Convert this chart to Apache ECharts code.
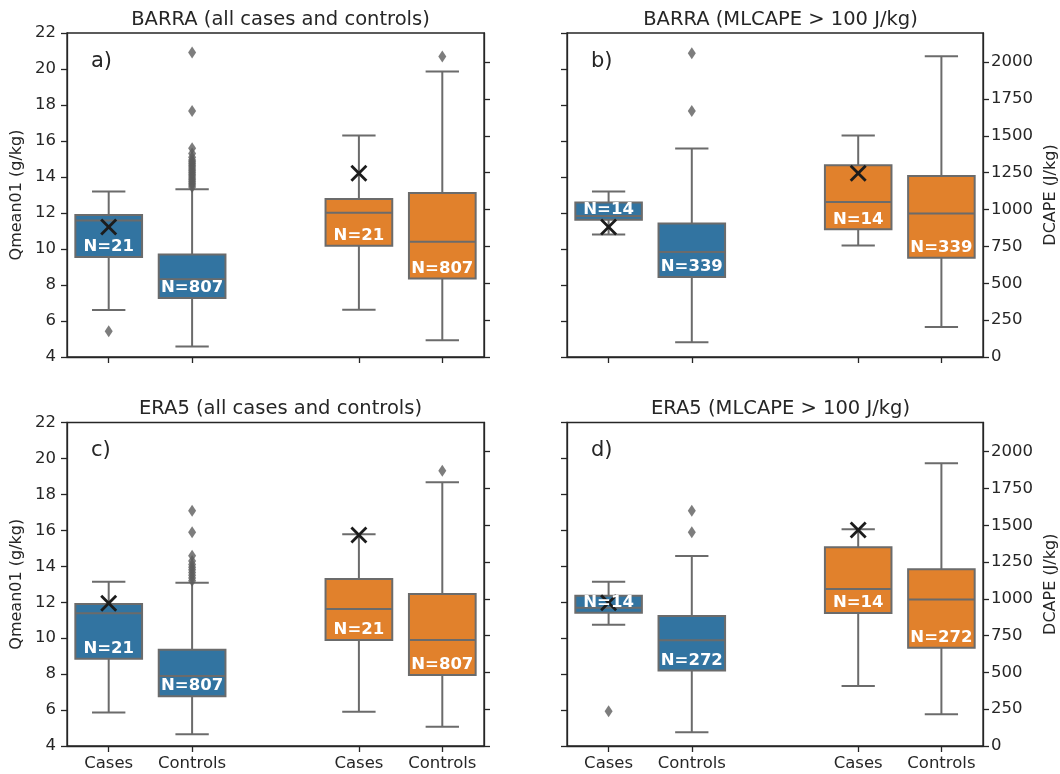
<!DOCTYPE html>
<html>
<head>
<meta charset="utf-8">
<script src="https://cdn.jsdelivr.net/npm/echarts@6/dist/echarts.min.js"></script>
<style>
html,body{margin:0;padding:0;background:#fff;}
#chart{width:1060px;height:774px;}
</style>
</head>
<body>
<div id="chart"></div>
<script>
// ---------- DATA ----------
const categories = ['Cases', 'Controls', '', 'Cases', 'Controls'];
const panelTitles = ['BARRA (all cases and controls)', 'BARRA (MLCAPE > 100 J/kg)', 'ERA5 (all cases and controls)', 'ERA5 (MLCAPE > 100 J/kg)'];
const panelLetters = ['a)', 'b)', 'c)', 'd)'];
const qTicks = [4, 6, 8, 10, 12, 14, 16, 18, 20, 22];
const dTicks = [0, 250, 500, 750, 1000, 1250, 1500, 1750, 2000];
const qName = 'Qmean01 (g/kg)';
const dName = 'DCAPE (J/kg)';

// box stats: [lower whisker, Q1, median, Q3, upper whisker] for [Cases, Controls]
const qStatsA = [[6.61, 9.56, 11.59, 11.89, 13.19], [4.58, 7.28, 8.32, 9.69, 13.32]];
const dStatsA = [[320, 755, 979, 1072, 1502], [114, 533, 782, 1113, 1937]];
const qStatsB = [[10.80, 11.63, 11.83, 12.58, 13.19], [4.82, 8.44, 9.83, 11.41, 15.59]];
const dStatsB = [[757, 866, 1052, 1300, 1502], [204, 673, 974, 1228, 2041]];
const qStatsC = [[5.87, 8.85, 11.38, 11.90, 13.14], [4.66, 6.77, 7.89, 9.36, 13.08]];
const dStatsC = [[232, 721, 931, 1135, 1439], [130, 483, 721, 1033, 1792]];
const qStatsD = [[10.74, 11.41, 11.69, 12.36, 13.14], [4.77, 8.20, 9.89, 11.23, 14.57]];
const dStatsD = [[408, 904, 1067, 1350, 1473], [216, 668, 995, 1201, 1921]];

// sample sizes [Cases, Controls]
const countsA = [21, 807];
const countsB = [14, 339];
const countsC = [21, 807];
const countsD = [14, 272];

// X markers for cases [Qmean01, DCAPE]
const caseMarkA = [11.22, 1246];
const caseMarkB = [11.22, 1246];
const caseMarkC = [11.94, 1434];
const caseMarkD = [11.97, 1468];

// outliers [Cases, Controls]
const qOutA = [[5.43], [13.45, 13.55, 13.65, 13.75, 13.85, 13.95, 14.05, 14.15, 14.25, 14.35, 14.45, 14.55, 14.65, 14.75, 14.85, 14.95, 15.10, 15.30, 15.60, 17.67, 20.91]];
const dOutA = [[], [2039]];
const qOutB = [[], [17.67, 20.87]];
const dOutB = [[], []];
const qOutC = [[], [13.20, 13.35, 13.50, 13.65, 13.80, 13.95, 14.10, 14.30, 14.58, 15.90, 17.09]];
const dOutC = [[], [1871]];
const qOutD = [[5.94], [15.90, 17.09]];
const dOutD = [[], []];

const panels = [
  {q: qStatsA, d: dStatsA, n: countsA, m: caseMarkA, qo: qOutA, dO: dOutA},
  {q: qStatsB, d: dStatsB, n: countsB, m: caseMarkB, qo: qOutB, dO: dOutB},
  {q: qStatsC, d: dStatsC, n: countsC, m: caseMarkC, qo: qOutC, dO: dOutC},
  {q: qStatsD, d: dStatsD, n: countsD, m: caseMarkD, qo: qOutD, dO: dOutD}
];

// ---------- STYLE / LAYOUT ----------
const FONT = '"DejaVu Sans", "Liberation Sans", sans-serif';
const INK = '#262626';
const BLUE = '#3274A1';
const ORANGE = '#E1812C';
const GRAY = '#6b6b6b';
const FLIER = '#5d5d5d';
const D_MAX = 2198;

const gridPos = [
  {left: 67, right: 576, top: 33, bottom: 417},
  {left: 567, right: 77, top: 33, bottom: 417},
  {left: 67, right: 576, top: 422.5, bottom: 28},
  {left: 567, right: 77, top: 422.5, bottom: 28}
];
const titleCenters = [275.5, 775.5, 275.5, 775.5];
const titleTops = [5, 5, 394, 394];

function boxRender(fill) {
  return function (params, api) {
    const x = api.value(0);
    const lo = api.coord([x, api.value(1)]);
    const q1 = api.coord([x, api.value(2)]);
    const md = api.coord([x, api.value(3)]);
    const q3 = api.coord([x, api.value(4)]);
    const hi = api.coord([x, api.value(5)]);
    const band = api.size([1, 0])[0];
    const w = band * 0.8, cw = band * 0.4;
    const cx = lo[0];
    const ls = {stroke: GRAY, lineWidth: 2};
    return {
      type: 'group',
      children: [
        {type: 'line', shape: {x1: cx, y1: hi[1], x2: cx, y2: q3[1]}, style: ls},
        {type: 'line', shape: {x1: cx, y1: q1[1], x2: cx, y2: lo[1]}, style: ls},
        {type: 'line', shape: {x1: cx - cw / 2, y1: hi[1], x2: cx + cw / 2, y2: hi[1]}, style: ls},
        {type: 'line', shape: {x1: cx - cw / 2, y1: lo[1], x2: cx + cw / 2, y2: lo[1]}, style: ls},
        {type: 'rect', shape: {x: cx - w / 2, y: q3[1], width: w, height: q1[1] - q3[1]}, style: {fill: fill, stroke: GRAY, lineWidth: 2}},
        {type: 'line', shape: {x1: cx - w / 2, y1: md[1], x2: cx + w / 2, y2: md[1]}, style: ls}
      ]
    };
  };
}

function labelRender(params, api) {
  const x = api.value(0);
  const q1 = api.coord([x, api.value(1)]);
  return {
    type: 'text',
    style: {
      text: 'N=' + api.value(2),
      x: q1[0], y: q1[1] - 10,
      align: 'center', verticalAlign: 'middle',
      fill: '#ffffff',
      font: 'bold 16.5px ' + FONT
    }
  };
}

function crossRender(params, api) {
  const p = api.coord([api.value(0), api.value(1)]);
  const s = 7.5;
  const st = {stroke: '#1c1c1c', lineWidth: 2.8};
  return {
    type: 'group',
    children: [
      {type: 'line', shape: {x1: p[0] - s, y1: p[1] - s, x2: p[0] + s, y2: p[1] + s}, style: st},
      {type: 'line', shape: {x1: p[0] - s, y1: p[1] + s, x2: p[0] + s, y2: p[1] - s}, style: st}
    ]
  };
}

const option = {
  animation: false,
  backgroundColor: '#ffffff',
  textStyle: {fontFamily: FONT},
  title: [],
  grid: [],
  xAxis: [],
  yAxis: [],
  series: []
};

panels.forEach((p, i) => {
  const isLeft = (i % 2 === 0);
  const isBottom = (i >= 2);
  option.title.push({
    text: panelTitles[i], left: titleCenters[i], top: titleTops[i], textAlign: 'center',
    textStyle: {fontFamily: FONT, fontSize: 19.5, fontWeight: 'normal', color: INK}
  });
  option.title.push({
    text: panelLetters[i], left: gridPos[i].left + 19, top: gridPos[i].top + 13,
    textStyle: {fontFamily: FONT, fontSize: 21, fontWeight: 'normal', color: INK}
  });
  option.grid.push(Object.assign({show: true, borderColor: INK, borderWidth: 1.3, backgroundColor: 'transparent', containLabel: false}, gridPos[i]));
  option.xAxis.push({
    type: 'category', gridIndex: i, data: categories, boundaryGap: true,
    axisLine: {show: true, lineStyle: {color: INK, width: 1.3}},
    axisTick: {show: true, alignWithLabel: true, length: 6, lineStyle: {color: INK, width: 1.3},
      interval: function (idx, val) { return val !== ''; }},
    axisLabel: {show: isBottom, margin: 9, fontSize: 16.5, color: INK, fontFamily: FONT, interval: 0},
    splitLine: {show: false}
  });
  option.yAxis.push({
    type: 'value', gridIndex: i, position: 'left', min: 4, max: 22, interval: 2,
    name: isLeft ? qName : '', nameLocation: 'middle', nameGap: 42, nameRotate: 90,
    nameTextStyle: {fontFamily: FONT, fontSize: 16, color: INK},
    axisLine: {show: true, lineStyle: {color: INK, width: 1.3}},
    axisTick: {show: true, length: 6, lineStyle: {color: INK, width: 1.3}},
    axisLabel: {show: isLeft, margin: 11, fontSize: 16.5, color: INK, fontFamily: FONT},
    splitLine: {show: false}
  });
  option.yAxis.push({
    type: 'value', gridIndex: i, position: 'right', min: 0, max: D_MAX,
    name: isLeft ? '' : dName, nameLocation: 'middle', nameGap: 60, nameRotate: 90,
    nameTextStyle: {fontFamily: FONT, fontSize: 16, color: INK},
    axisLine: {show: true, lineStyle: {color: INK, width: 1.3}},
    axisTick: {show: true, length: 6, lineStyle: {color: INK, width: 1.3}, customValues: dTicks},
    axisLabel: {show: !isLeft, margin: 8, fontSize: 16.5, color: INK, fontFamily: FONT, customValues: dTicks,
      formatter: function (v) { return String(v); }},
    splitLine: {show: false}
  });
  const yL = 2 * i, yR = 2 * i + 1;
  // boxes
  option.series.push({
    type: 'custom', xAxisIndex: i, yAxisIndex: yL, z: 2,
    renderItem: boxRender(BLUE),
    data: p.q.map((s, k) => [k].concat(s))
  });
  option.series.push({
    type: 'custom', xAxisIndex: i, yAxisIndex: yR, z: 2,
    renderItem: boxRender(ORANGE),
    data: p.d.map((s, k) => [k + 3].concat(s))
  });
  // outliers
  const qFl = [], dFl = [];
  p.qo.forEach((arr, k) => arr.forEach(v => qFl.push([k, v])));
  p.dO.forEach((arr, k) => arr.forEach(v => dFl.push([k + 3, v])));
  option.series.push({
    type: 'scatter', xAxisIndex: i, yAxisIndex: yL, z: 2, symbol: 'diamond', symbolSize: [8, 12],
    itemStyle: {color: FLIER}, data: qFl
  });
  option.series.push({
    type: 'scatter', xAxisIndex: i, yAxisIndex: yR, z: 2, symbol: 'diamond', symbolSize: [8, 12],
    itemStyle: {color: FLIER}, data: dFl
  });
  // case markers
  option.series.push({
    type: 'custom', xAxisIndex: i, yAxisIndex: yL, z: 3, renderItem: crossRender,
    data: [[0, p.m[0]]]
  });
  option.series.push({
    type: 'custom', xAxisIndex: i, yAxisIndex: yR, z: 3, renderItem: crossRender,
    data: [[3, p.m[1]]]
  });
  // N labels
  option.series.push({
    type: 'custom', xAxisIndex: i, yAxisIndex: yL, z: 4, renderItem: labelRender,
    data: p.q.map((s, k) => [k, s[1], p.n[k]])
  });
  option.series.push({
    type: 'custom', xAxisIndex: i, yAxisIndex: yR, z: 4, renderItem: labelRender,
    data: p.d.map((s, k) => [k + 3, s[1], p.n[k]])
  });
});

const chart = echarts.init(document.getElementById('chart'), null, {renderer: 'canvas'});
chart.setOption(option);
</script>
</body>
</html>
